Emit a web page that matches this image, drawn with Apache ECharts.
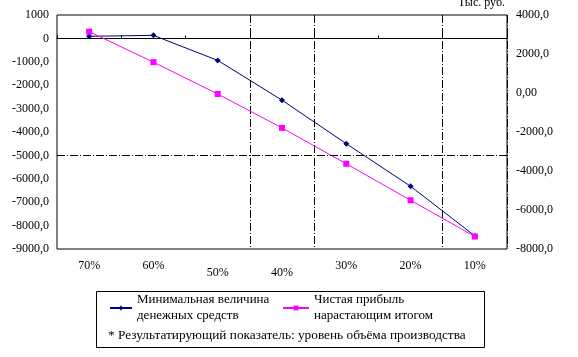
<!DOCTYPE html>
<html>
<head>
<meta charset="utf-8">
<script src="https://cdn.jsdelivr.net/npm/echarts@6/dist/echarts.min.js"></script>
<style>html,body{margin:0;padding:0;background:#fff;}#c{width:578px;height:357px;}</style>
</head>
<body>
<div id="c"></div>
<script>
var categories = ['70%', '60%', '50%', '40%', '30%', '20%', '10%'];
var minCash = [90, 130, -940, -2640, -4500, -6320, -8440];
var netProfitCum = [3150, 1580, -50, -1790, -3630, -5500, -7360];
var seriesNames = ['Минимальная величина\nденежных средств', 'Чистая прибыль\nнарастающим итогом'];
var unitLabel = 'Тыс. руб.';
var footnote = '* Результатирующий показатель: уровень объёма производства';
var lowLabels = ['50%', '40%'];
var verticalGuides = [3, 4, 6];
var refLine = -5000;

var FONT = "'Liberation Serif', 'Times New Roman', serif";
var dashDot = [8, 2, 1, 2];
function fmtLeft(v) {
  if (v === 1000) return '1000';
  if (v === 0) return '0';
  return v.toFixed(1).replace('.', ',');
}
function fmtRight(v) {
  if (v === 0) return '0,00';
  return v.toFixed(1).replace('.', ',');
}
var legendText = {fontFamily: FONT, fontSize: 13, color: '#000', lineHeight: 16, padding: [16, 0, 0, 0]};
var chart = echarts.init(document.getElementById('c'), null, {renderer: 'canvas'});
chart.setOption({
  animation: false,
  backgroundColor: '#fff',
  textStyle: {fontFamily: FONT, fontSize: 12, color: '#000'},
  grid: {left: 57, right: 71, top: 15, bottom: 108, show: true, borderColor: '#000', borderWidth: 1, backgroundColor: 'transparent'},
  xAxis: [{
    type: 'category', data: categories, position: 'bottom', boundaryGap: true,
    axisLine: {show: false, onZero: false}, axisTick: {show: false},
    axisLabel: {
      interval: 0, margin: 11, fontFamily: FONT, fontSize: 12, color: '#000',
      formatter: function (v) { return lowLabels.indexOf(v) >= 0 ? '{b|' + v + '}' : '{a|' + v + '}'; },
      rich: {a: {fontFamily: FONT, fontSize: 12, color: '#000'}, b: {fontFamily: FONT, fontSize: 12, color: '#000', padding: [7, 0, 0, 0]}}
    },
    splitLine: {show: true, interval: function (i) { return verticalGuides.indexOf(i) >= 0; }, lineStyle: {color: '#000', width: 1, type: dashDot}}
  }, {
    type: 'category', data: categories, position: 'top', boundaryGap: true,
    axisLine: {show: true, onZero: true, onZeroAxisIndex: 0, lineStyle: {color: '#000', width: 1}},
    axisTick: {show: true, inside: false, length: 3, interval: 0, lineStyle: {color: '#000'}},
    axisLabel: {show: false}, splitLine: {show: false}
  }],
  yAxis: [{
    type: 'value', min: -9000, max: 1000, interval: 1000, position: 'left',
    axisLine: {show: false}, axisTick: {show: false}, splitLine: {show: false},
    axisLabel: {margin: 8, formatter: fmtLeft, fontFamily: FONT, fontSize: 12, color: '#000'}
  }, {
    type: 'value', min: -8000, max: 4000, interval: 2000, position: 'right',
    axisLine: {show: false}, axisTick: {show: false}, splitLine: {show: false},
    axisLabel: {margin: 9, formatter: fmtRight, fontFamily: FONT, fontSize: 12, color: '#000'}
  }],
  legend: [{
    data: [seriesNames[0]], left: 109, top: 284, padding: 0, orient: 'horizontal',
    itemWidth: 22, itemHeight: 6, itemGap: 6,
    textStyle: legendText
  }, {
    data: [seriesNames[1]], left: 282, top: 284, padding: 0, orient: 'horizontal',
    itemWidth: 26, itemHeight: 6, itemGap: 6,
    textStyle: legendText
  }],
  graphic: [{
    type: 'rect', left: 96, top: 291, z: -1,
    shape: {width: 388, height: 56},
    style: {fill: '#fff', stroke: '#000', lineWidth: 1}
  }, {
    type: 'text', left: 108, top: 329,
    style: {text: footnote, font: '13.3px ' + FONT, fill: '#000'}
  }, {
    type: 'text', right: 73, top: -3,
    style: {text: unitLabel, font: '12px ' + FONT, fill: '#000'}
  }],
  series: [{
    name: seriesNames[0], type: 'line', xAxisIndex: 0, yAxisIndex: 0, data: minCash,
    symbol: 'diamond', symbolSize: 6, color: '#000080',
    lineStyle: {color: '#000080', width: 1},
    markLine: {
      silent: true, symbol: 'none', label: {show: false},
      lineStyle: {color: '#000', width: 1, type: dashDot},
      data: [{yAxis: refLine}]
    }
  }, {
    name: seriesNames[1], type: 'line', xAxisIndex: 0, yAxisIndex: 1, data: netProfitCum,
    symbol: 'rect', symbolSize: 6, color: '#FF00FF',
    lineStyle: {color: '#FF00FF', width: 1}
  }]
});
</script>
</body>
</html>
